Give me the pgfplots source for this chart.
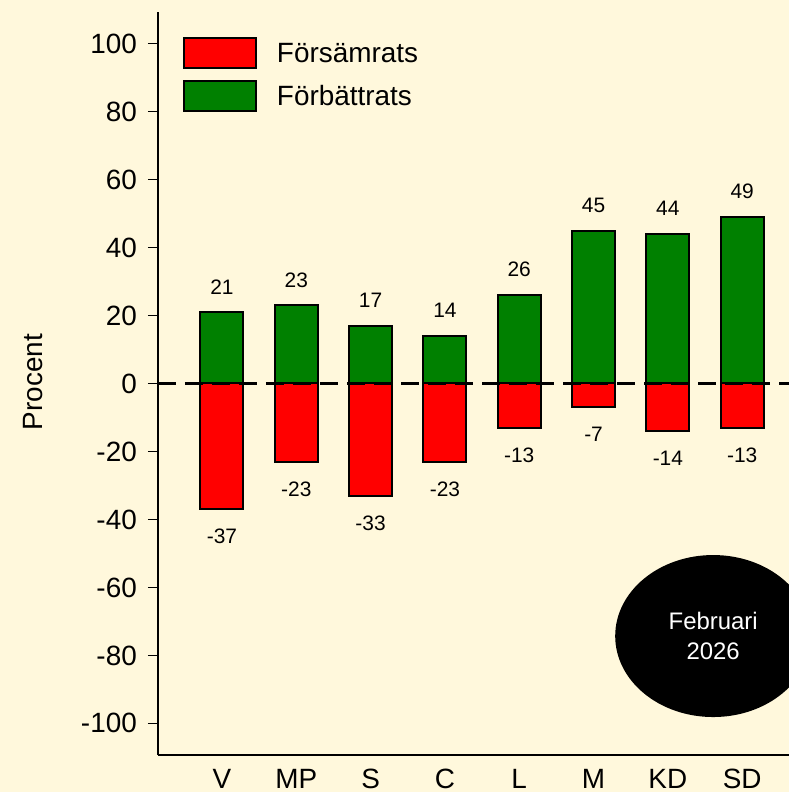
\documentclass[border=0pt]{standalone}
\usepackage{pgfplots}
\pgfplotsset{compat=1.18}
\usepackage{fontspec}
\setmainfont{Liberation Sans}
\definecolor{bg}{RGB}{255,248,220}
\definecolor{barred}{RGB}{255,0,0}
\definecolor{bargreen}{RGB}{0,128,0}

\pgfplotstableread{
x worse better
0 -37 21
1 -23 23
2 -33 17
3 -23 14
4 -13 26
5 -7 45
6 -14 44
7 -13 49
}\partier

\begin{document}
\begin{tikzpicture}
\fill[bg] (-158bp,-37bp) rectangle (631bp,755bp);
\begin{axis}[
  at={(0,0)}, anchor=south west,
  width=631bp, height=743bp, scale only axis,
  xmin=-0.861, xmax=7.63, ymin=-109.3, ymax=109.3,
  axis x line*=bottom, axis y line*=left,
  axis line style={-, line width=1.3bp, black},
  xtick={0,...,7}, xticklabels={V,MP,S,C,L,M,KD,SD},
  ytick={-100,-80,...,100},
  tick align=outside, major tick length=10bp,
  xtick style={draw=none},
  ytick style={line width=1.3bp, black},
  /pgf/number format/assume math mode=true,
  ticklabel style={font=\fontsize{28}{28}\selectfont},
  xticklabel style={anchor=north, inner sep=0pt, yshift=-4bp},
  yticklabel style={anchor=east, inner sep=0pt, xshift=-11bp},
  ylabel={Procent},
  ylabel style={at={(axis description cs:-0.198,0.502)}, anchor=center,
    font=\fontsize{28}{28}\selectfont},
  legend style={at={(axis description cs:0.0396,0.966)}, anchor=north west,
    draw=none, fill=none, inner sep=0pt, outer sep=0pt,
    row sep=11bp, column sep=20bp,
    font=\fontsize{28}{28}\selectfont, nodes={inner sep=0pt}},
  legend cell align=left,
]
\addplot[ybar, bar width=43bp, bar shift=0pt, fill=barred, draw=black, line width=2bp,
  legend image code/.code={\draw[fill=barred, draw=black, line width=2bp] (0bp,-15bp) rectangle (72bp,15bp);},
  nodes near coords,
  nodes near coords style={font=\fontsize{21}{21}\selectfont, text=black, inner ysep=19bp, inner xsep=0pt}]
  table[x=x, y=worse] {\partier};
\addlegendentry{Försämrats}
\addplot[ybar, bar width=43bp, bar shift=0pt, fill=bargreen, draw=black, line width=2bp,
  legend image code/.code={\draw[fill=bargreen, draw=black, line width=2bp] (0bp,-15bp) rectangle (72bp,15bp);},
  nodes near coords,
  nodes near coords style={font=\fontsize{21}{21}\selectfont, text=black, inner ysep=17bp, inner xsep=0pt}]
  table[x=x, y=better] {\partier};
\addlegendentry{Förbättrats}
\addplot[black, line width=3bp, dash pattern=on 18bp off 9bp, forget plot]
  coordinates {(-0.861,0) (7.63,0)};
\fill[black] (axis cs:6.61,-74.3) ellipse [x radius=98bp, y radius=81bp];
\node[text=white, align=center, font=\fontsize{24}{30}\selectfont] at (axis cs:6.61,-74.3) {Februari\\2026};
\end{axis}
\pgfresetboundingbox
\path[use as bounding box] (-158bp,-37bp) rectangle (631bp,755bp);
\end{tikzpicture}
\end{document}
